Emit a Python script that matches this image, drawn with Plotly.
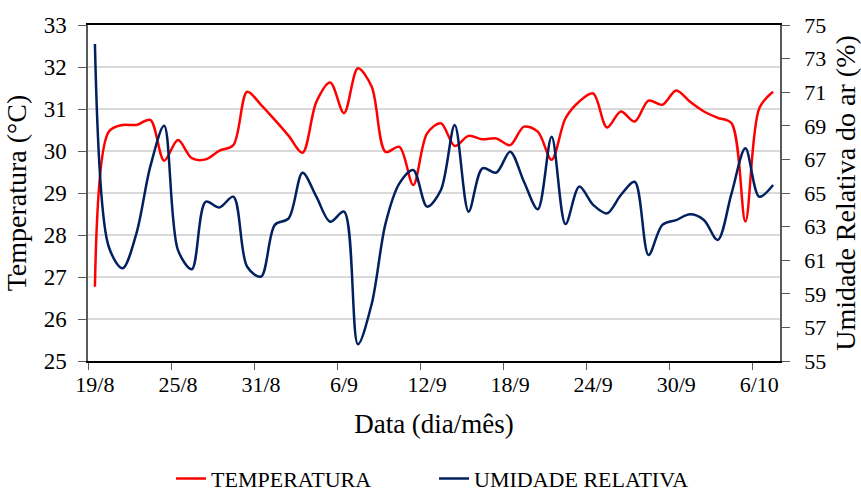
import plotly.graph_objects as go

dates = ["19/8","20/8","21/8","22/8","23/8","24/8","25/8","26/8","27/8","28/8","29/8","30/8",
         "31/8","1/9","2/9","3/9","4/9","5/9","6/9","7/9","8/9","9/9","10/9","11/9",
         "12/9","13/9","14/9","15/9","16/9","17/9","18/9","19/9","20/9","21/9","22/9","23/9",
         "24/9","25/9","26/9","27/9","28/9","29/9","30/9","1/10","2/10","3/10","4/10","5/10",
         "6/10","7/10"]

temperatura = [26.77, 30.46, 30.62, 30.62, 30.74, 29.77, 30.26, 29.83, 29.80, 30.01, 30.14, 31.41,
               31.10, 30.74, 30.36, 29.96, 31.17, 31.63, 30.90, 31.97, 31.53, 29.98, 30.10, 29.19,
               30.42, 30.66, 30.12, 30.36, 30.28, 30.30, 30.14, 30.58, 30.46, 29.79, 30.78, 31.18,
               31.37, 30.56, 30.94, 30.70, 31.20, 31.10, 31.44, 31.17, 30.94, 30.79, 30.66, 28.32,
               31.02, 31.41]

umidade = [73.87, 61.80, 60.52, 62.60, 66.57, 69.00, 61.60, 60.46, 64.48, 64.14, 64.78, 60.61,
           60.02, 63.10, 63.49, 66.21, 64.78, 63.29, 63.89, 56.00, 58.40, 63.19, 65.57, 66.37,
           64.19, 65.18, 69.05, 63.89, 66.47, 66.21, 67.46, 65.67, 64.03, 68.35, 63.15, 65.38,
           64.29, 63.79, 64.88, 65.67, 61.31, 63.10, 63.39, 63.73, 63.39, 62.20, 64.98, 67.66,
           64.78, 65.48]

temp_ticks = [25, 26, 27, 28, 29, 30, 31, 32, 33]
umid_ticks = [55, 57, 59, 61, 63, 65, 67, 69, 71, 73, 75]

FONT = "Liberation Serif"
AXIS = "#595959"

fig = go.Figure()
fig.add_trace(go.Scatter(x=dates, y=temperatura, name="TEMPERATURA", mode="lines",
                         line=dict(color="#FF0000", width=2.5, shape="spline", smoothing=0.9),
                         yaxis="y"))
fig.add_trace(go.Scatter(x=dates, y=umidade, name="UMIDADE RELATIVA", mode="lines",
                         line=dict(color="#002060", width=2.5, shape="spline", smoothing=0.9),
                         yaxis="y2"))

fig.update_layout(
    width=861, height=491,
    margin=dict(l=88, r=81, t=25, b=130),
    paper_bgcolor="white", plot_bgcolor="white",
    font=dict(family=FONT, color="black", size=22),
    showlegend=True,
    legend=dict(orientation="h", x=0.12, xanchor="left", yref="container", y=0.025,
                yanchor="middle", font=dict(family=FONT, size=22),
                entrywidth=218, entrywidthmode="pixels", traceorder="normal"),
    xaxis=dict(type="category", tickmode="linear", tick0=0, dtick=6, tickson="boundaries",
               tickangle=0, automargin=False, ticklabelstandoff=3,
               ticks="outside", ticklen=7, tickcolor=AXIS, showgrid=False,
               showline=True, linecolor="black", linewidth=1.5, mirror=True,
               range=[-0.5, 49.5],
               tickfont=dict(family=FONT, size=22),
               title=dict(text="Data (dia/mês)", font=dict(family=FONT, size=27), standoff=18)),
    yaxis=dict(range=[25, 33], tickvals=temp_ticks, ticks="outside", ticklen=8, tickcolor=AXIS,
               showgrid=True, gridcolor="#D9D9D9", gridwidth=1.5, automargin=False,
               ticklabelstandoff=7,
               showline=True, linecolor=AXIS, linewidth=1.5, zeroline=False,
               tickfont=dict(family=FONT, size=23),
               title=dict(text="Temperatura (°C)", font=dict(family=FONT, size=28), standoff=9)),
    yaxis2=dict(range=[55, 75], tickvals=umid_ticks, overlaying="y", side="right",
                ticks="outside", ticklen=8, tickcolor=AXIS, showgrid=False, automargin=False,
                ticklabelstandoff=10,
                showline=True, linecolor=AXIS, linewidth=1.5, zeroline=False,
                tickfont=dict(family=FONT, size=22),
                title=dict(text="Umidade Relativa do ar (%)", font=dict(family=FONT, size=28), standoff=10)),
)

fig.write_html("out.html", config={"displayModeBar": False},
               post_script="document.body.style.margin='0';document.body.style.overflow='hidden';")
